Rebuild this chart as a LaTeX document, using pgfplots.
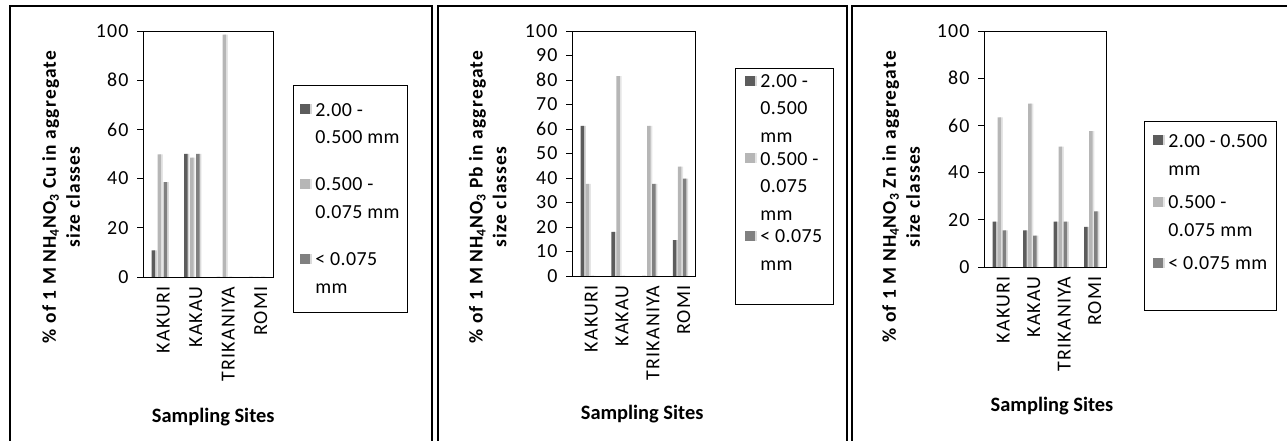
\documentclass[border=0pt]{standalone}
\usepackage{fontspec}
\setmainfont{Carlito}
\newfontfamily\tickfont{Carlito}[LetterSpace=6]
\newfontfamily\legfont{Carlito}[LetterSpace=2]
\newfontfamily\labfont{Carlito}[LetterSpace=6]
\usepackage{pgfplots}
\pgfplotsset{compat=1.18}
\definecolor{sA}{RGB}{92,92,92}
\definecolor{sB}{RGB}{182,182,182}
\definecolor{sC}{RGB}{128,128,128}
\newcommand\legcell[2]{\begin{tabular}[t]{@{}p{#1}@{}}#2\end{tabular}}
\pgfplotsset{
  panel/.style={
    scale only axis,
    ybar=1.5bp, bar width=3.5bp,
    every axis plot post/.append style={legend image code/.code={\fill[/tikz/preaction/.code={}, ##1] (0bp,2bp) rectangle (10bp,12bp);}},
    ymin=0, ymax=100,
    xmin=-0.5, xmax=3.5,
    xtick={0,1,2,3},
    xticklabels={KAKURI,KAKAU,TRIKANIYA,ROMI},
    x tick label style={rotate=90, anchor=east, yshift=-4bp, font=\tickfont\fontsize{20}{22}\selectfont},
    y tick label style={xshift=-5bp, font=\tickfont\fontsize{20}{22}\selectfont},
    /pgf/number format/assume math mode=true,
    tick align=outside,
    ytick pos=left,
    xtick style={draw=none},
    ytick style={black, line width=0.7pt},
    major tick length=6bp,
    axis line style={black, line width=0.8pt},
    xlabel={Sampling Sites},
    xlabel style={font=\bfseries\fontsize{20.5}{22}\selectfont, anchor=center},
    ylabel style={font=\labfont\bfseries\fontsize{19.5}{24}\selectfont, align=center, anchor=center},
    legend style={anchor=north west, draw=black, line width=0.8pt, column sep=5bp,
      nodes={anchor=base west, inner sep=0pt, text depth=, text height=,
        font=\legfont\fontsize{20}{28}\selectfont}},
  },
  shA/.style={fill=sA, draw=none, preaction={fill=black!16, transform canvas={xshift=1.8bp}}},
  shB/.style={fill=sB, draw=none, preaction={fill=black!10, transform canvas={xshift=1.8bp}}},
  shC/.style={fill=sC, draw=none, preaction={fill=black!14, transform canvas={xshift=1.8bp}}},
}
\begin{document}
\begin{tikzpicture}[x=1bp,y=1bp]
\useasboundingbox (0,0) rectangle (1287,441);
\draw[line width=1.2pt] (10,0) -- (10,435) -- (432,435) -- (432,0);
\draw[line width=1.2pt] (438,0) -- (438,435) -- (847,435) -- (847,0);
\draw[line width=1.2pt] (852,0) -- (852,435) -- (1287,435);

% Panel 1: Cu
\begin{axis}[panel, at={(143bp,164bp)}, anchor=south west, width=130bp, height=246bp,
  ybar=2.5bp,
  ytick={0,20,40,60,80,100},
  ylabel={\% of 1 M NH\textsubscript{4}NO\textsubscript{3} Cu in aggregate\\size classes},
  ylabel style={at={(axis description cs:-0.63,0.325)}},
  xlabel style={at={(axis description cs:0.54,-0.57)}},
  legend style={at={(axis description cs:1.154,0.780)}, inner xsep=7bp, inner ysep=11bp, row sep=19bp},
]
\addplot[shA] coordinates {(0,10.8) (1,50) (2,0) (3,0)};
\addplot[shB] coordinates {(0,49.8) (1,48.5) (2,98.5) (3,0)};
\addplot[shC] coordinates {(0,38.6) (1,50) (2,0) (3,0)};
\addlegendentry{\legcell{85bp}{2.00 -\\0.500 mm}}
\addlegendentry{\legcell{85bp}{0.500 -\\0.075 mm}}
\addlegendentry{\legcell{85bp}{< 0.075\\mm}}
\end{axis}

% Panel 2: Pb
\begin{axis}[panel, at={(572bp,165bp)}, anchor=south west, width=123bp, height=245bp,
  ytick={0,10,...,100},
  ylabel={\% of 1 M NH\textsubscript{4}NO\textsubscript{3} Pb in aggregate\\size classes},
  ylabel style={at={(axis description cs:-0.685,0.322)}},
  xlabel style={at={(axis description cs:0.57,-0.562)}},
  legend style={at={(axis description cs:1.325,0.849)}, inner xsep=10bp, inner ysep=0bp, row sep=-4.5bp,
    nodes={font=\legfont\fontsize{20}{27.5}\selectfont}},
]
\addplot[shA] coordinates {(0,61.3) (1,18) (2,0) (3,14.6)};
\addplot[shB] coordinates {(0,37.6) (1,81.6) (2,61.3) (3,44.6)};
\addplot[shC] coordinates {(0,0) (1,0) (2,37.6) (3,39.7)};
\addlegendentry{\legcell{63bp}{2.00 -\\0.500\\mm}}
\addlegendentry{\legcell{63bp}{0.500 -\\0.075\\mm}}
\addlegendentry{\legcell{63bp}{< 0.075\\mm\\[26bp]}}
\end{axis}

% Panel 3: Zn
\begin{axis}[panel, at={(984bp,174bp)}, anchor=south west, width=122bp, height=236bp,
  ytick={0,20,40,60,80,100},
  ylabel={\% of 1 M NH\textsubscript{4}NO\textsubscript{3} Zn in aggregate\\size classes},
  ylabel style={at={(axis description cs:-0.68,0.297)}},
  xlabel style={at={(axis description cs:0.557,-0.59)}},
  legend style={at={(axis description cs:1.311,0.619)}, inner xsep=9bp, inner ysep=6.5bp, row sep=5.5bp},
]
\addplot[shA] coordinates {(0,19.2) (1,15.5) (2,19.2) (3,17)};
\addplot[shB] coordinates {(0,63.4) (1,69.2) (2,51) (3,57.6)};
\addplot[shC] coordinates {(0,15.5) (1,13.3) (2,19.2) (3,23.6)};
\addlegendentry{\legcell{99bp}{2.00 - 0.500\\mm}}
\addlegendentry{\legcell{99bp}{0.500 -\\0.075 mm}}
\addlegendentry{\legcell{99bp}{< 0.075 mm\\[26bp]}}
\end{axis}
\end{tikzpicture}
\end{document}
